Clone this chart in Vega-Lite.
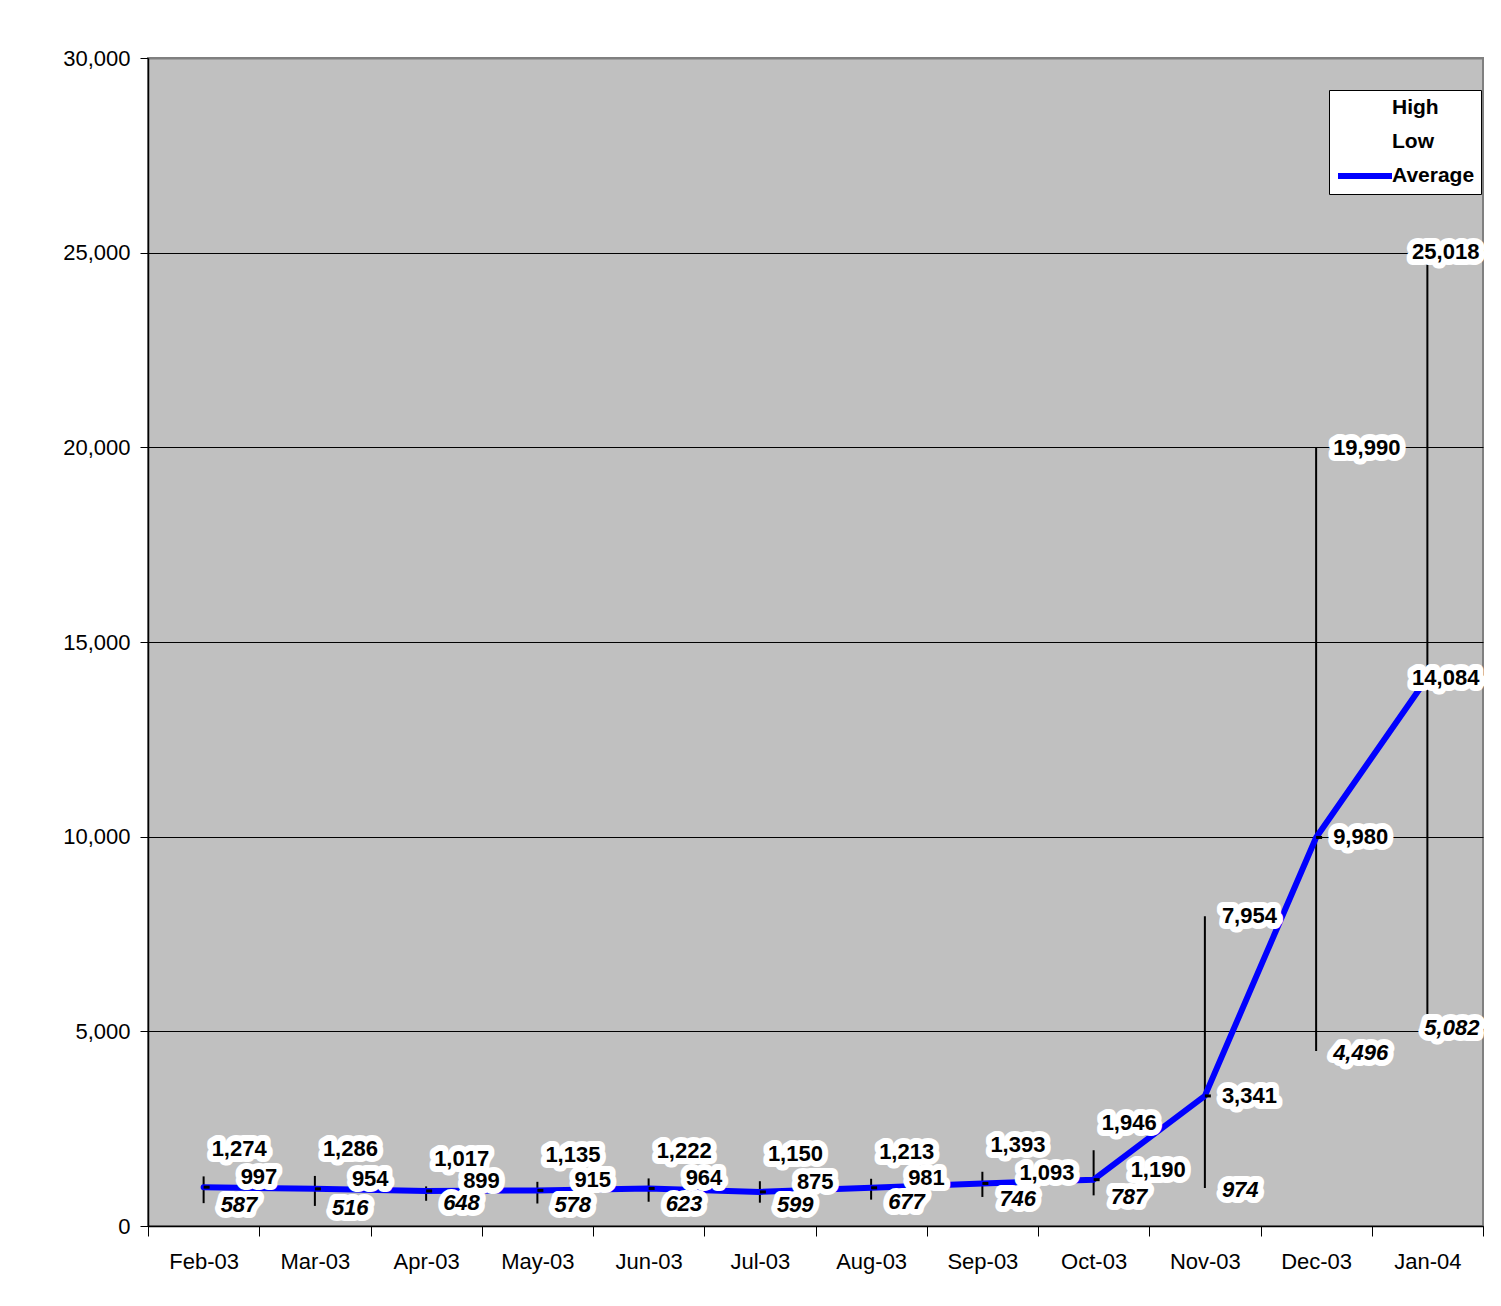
{
  "$schema": "https://vega.github.io/schema/vega-lite/v6.json",
  "width": 1335,
  "height": 1168,
  "autosize": "none",
  "padding": {"left": 148, "top": 58, "right": 18, "bottom": 80},
  "background": "white",
  "config": {
    "view": {"fill": "#C0C0C0", "stroke": "#808080", "strokeWidth": 2},
    "font": "Liberation Sans",
    "axis": {"labelFont": "Liberation Sans", "labelFontSize": 22, "labelColor": "black", "domainColor": "black", "tickColor": "black", "domainWidth": 1.5, "tickWidth": 1}
  },
  "data": {"values": [
    {"month": "Feb-03", "high": 1274, "low": 587, "avg": 997},
    {"month": "Mar-03", "high": 1286, "low": 516, "avg": 954},
    {"month": "Apr-03", "high": 1017, "low": 648, "avg": 899},
    {"month": "May-03", "high": 1135, "low": 578, "avg": 915},
    {"month": "Jun-03", "high": 1222, "low": 623, "avg": 964},
    {"month": "Jul-03", "high": 1150, "low": 599, "avg": 875},
    {"month": "Aug-03", "high": 1213, "low": 677, "avg": 981},
    {"month": "Sep-03", "high": 1393, "low": 746, "avg": 1093},
    {"month": "Oct-03", "high": 1946, "low": 787, "avg": 1190},
    {"month": "Nov-03", "high": 7954, "low": 974, "avg": 3341},
    {"month": "Dec-03", "high": 19990, "low": 4496, "avg": 9980},
    {"month": "Jan-04", "high": 25018, "low": 5082, "avg": 14084}
  ]},
  "encoding": {
    "x": {"field": "month", "type": "ordinal", "sort": null, "title": null,
      "scale": {"type": "band", "paddingInner": 0, "paddingOuter": 0},
      "axis": {"labelAngle": 0, "tickBand": "extent", "tickSize": 10, "labelPadding": 15, "grid": false, "labelOverlap": false}}
  },
  "layer": [
    {
      "mark": {"type": "rule", "color": "black", "strokeWidth": 2},
      "encoding": {
        "y": {"field": "low", "type": "quantitative", "title": null,
          "scale": {"domain": [0, 30000], "nice": false},
          "axis": {"values": [0, 5000, 10000, 15000, 20000, 25000, 30000], "format": ",.0f", "grid": true,
            "gridColor": {"condition": {"test": "datum.value == 30000", "value": "#808080"}, "value": "black"},
            "gridWidth": {"condition": {"test": "datum.value == 30000", "value": 2}, "value": 1},
            "gridOpacity": 1, "tickSize": 8, "labelPadding": 10}},
        "y2": {"field": "high"}
      }
    },
    {
      "mark": {"type": "line", "strokeWidth": 6, "strokeCap": "round", "strokeJoin": "round"},
      "encoding": {
        "y": {"field": "avg", "type": "quantitative"},
        "stroke": {"datum": "Average", "type": "nominal",
          "scale": {"domain": ["High", "Low", "Average"], "range": ["transparent", "transparent", "#0000FF"]},
          "legend": {"title": null, "orient": "none", "legendX": 1181, "legendY": 32, "fillColor": "white", "strokeColor": "black", "padding": 6,
            "symbolType": "M-1,0H5", "symbolSize": 324, "symbolStrokeWidth": 6, "symbolStrokeCap": "round", "labelFont": "Liberation Sans", "labelFontWeight": "bold", "labelFontSize": 21, "labelColor": "black", "labelOffset": 33, "rowPadding": 10}}
      }
    },
    {
      "mark": {"type": "point", "shape": "M0,-0.3H1.2V0.3H0Z", "size": 100, "filled": true, "color": "black", "opacity": 1},
      "encoding": {"y": {"field": "avg", "type": "quantitative"}}
    },

    {"transform": [{"filter": "datum.high < 3000"}],
     "mark": {"type": "text", "fontWeight": "bold", "fontSize": 22, "align": "left", "baseline": "middle", "dx": 8, "dy": -27, "fill": "white", "stroke": "white", "strokeWidth": 12, "strokeJoin": "round"},
     "encoding": {"y": {"field": "high", "type": "quantitative"}, "text": {"field": "high", "format": ","}}},
    {"transform": [{"filter": "datum.high < 3000"}],
     "mark": {"type": "text", "fontWeight": "bold", "fontSize": 22, "align": "left", "baseline": "middle", "dx": 8, "dy": -27, "fill": "black"},
     "encoding": {"y": {"field": "high", "type": "quantitative"}, "text": {"field": "high", "format": ","}}},

    {"transform": [{"filter": "datum.high >= 3000 && datum.month != 'Jan-04'"}],
     "mark": {"type": "text", "fontWeight": "bold", "fontSize": 22, "align": "left", "baseline": "middle", "dx": 17, "fill": "white", "stroke": "white", "strokeWidth": 12, "strokeJoin": "round"},
     "encoding": {"y": {"field": "high", "type": "quantitative"}, "text": {"field": "high", "format": ","}}},
    {"transform": [{"filter": "datum.high >= 3000 && datum.month != 'Jan-04'"}],
     "mark": {"type": "text", "fontWeight": "bold", "fontSize": 22, "align": "left", "baseline": "middle", "dx": 17, "fill": "black"},
     "encoding": {"y": {"field": "high", "type": "quantitative"}, "text": {"field": "high", "format": ","}}},

    {"transform": [{"filter": "datum.high < 3000"}],
     "mark": {"type": "text", "fontWeight": "bold", "fontSize": 22, "align": "left", "baseline": "middle", "dx": 37, "dy": -10, "fill": "white", "stroke": "white", "strokeWidth": 12, "strokeJoin": "round"},
     "encoding": {"y": {"field": "avg", "type": "quantitative"}, "text": {"field": "avg", "format": ","}}},
    {"transform": [{"filter": "datum.high < 3000"}],
     "mark": {"type": "text", "fontWeight": "bold", "fontSize": 22, "align": "left", "baseline": "middle", "dx": 37, "dy": -10, "fill": "black"},
     "encoding": {"y": {"field": "avg", "type": "quantitative"}, "text": {"field": "avg", "format": ","}}},

    {"transform": [{"filter": "datum.high >= 3000 && datum.month != 'Jan-04'"}],
     "mark": {"type": "text", "fontWeight": "bold", "fontSize": 22, "align": "left", "baseline": "middle", "dx": 17, "fill": "white", "stroke": "white", "strokeWidth": 12, "strokeJoin": "round"},
     "encoding": {"y": {"field": "avg", "type": "quantitative"}, "text": {"field": "avg", "format": ","}}},
    {"transform": [{"filter": "datum.high >= 3000 && datum.month != 'Jan-04'"}],
     "mark": {"type": "text", "fontWeight": "bold", "fontSize": 22, "align": "left", "baseline": "middle", "dx": 17, "fill": "black"},
     "encoding": {"y": {"field": "avg", "type": "quantitative"}, "text": {"field": "avg", "format": ","}}},

    {"transform": [{"filter": "datum.month != 'Jan-04'"}],
     "mark": {"type": "text", "fontWeight": "bold", "fontStyle": "italic", "fontSize": 22, "align": "left", "baseline": "middle", "dx": 17, "dy": 2, "fill": "white", "stroke": "white", "strokeWidth": 12, "strokeJoin": "round"},
     "encoding": {"y": {"field": "low", "type": "quantitative"}, "text": {"field": "low", "format": ","}}},
    {"transform": [{"filter": "datum.month != 'Jan-04'"}],
     "mark": {"type": "text", "fontWeight": "bold", "fontStyle": "italic", "fontSize": 22, "align": "left", "baseline": "middle", "dx": 17, "dy": 2, "fill": "black"},
     "encoding": {"y": {"field": "low", "type": "quantitative"}, "text": {"field": "low", "format": ","}}},

    {"transform": [{"filter": "datum.month == 'Jan-04'"}],
     "mark": {"type": "text", "fontWeight": "bold", "fontSize": 22, "align": "right", "baseline": "middle", "dx": 52, "fill": "white", "stroke": "white", "strokeWidth": 12, "strokeJoin": "round"},
     "encoding": {"y": {"field": "high", "type": "quantitative"}, "text": {"field": "high", "format": ","}}},
    {"transform": [{"filter": "datum.month == 'Jan-04'"}],
     "mark": {"type": "text", "fontWeight": "bold", "fontSize": 22, "align": "right", "baseline": "middle", "dx": 52, "fill": "black"},
     "encoding": {"y": {"field": "high", "type": "quantitative"}, "text": {"field": "high", "format": ","}}},
    {"transform": [{"filter": "datum.month == 'Jan-04'"}],
     "mark": {"type": "text", "fontWeight": "bold", "fontSize": 22, "align": "right", "baseline": "middle", "dx": 52, "fill": "white", "stroke": "white", "strokeWidth": 12, "strokeJoin": "round"},
     "encoding": {"y": {"field": "avg", "type": "quantitative"}, "text": {"field": "avg", "format": ","}}},
    {"transform": [{"filter": "datum.month == 'Jan-04'"}],
     "mark": {"type": "text", "fontWeight": "bold", "fontSize": 22, "align": "right", "baseline": "middle", "dx": 52, "fill": "black"},
     "encoding": {"y": {"field": "avg", "type": "quantitative"}, "text": {"field": "avg", "format": ","}}},
    {"transform": [{"filter": "datum.month == 'Jan-04'"}],
     "mark": {"type": "text", "fontWeight": "bold", "fontStyle": "italic", "fontSize": 22, "align": "right", "baseline": "middle", "dx": 52, "fill": "white", "stroke": "white", "strokeWidth": 12, "strokeJoin": "round"},
     "encoding": {"y": {"field": "low", "type": "quantitative"}, "text": {"field": "low", "format": ","}}},
    {"transform": [{"filter": "datum.month == 'Jan-04'"}],
     "mark": {"type": "text", "fontWeight": "bold", "fontStyle": "italic", "fontSize": 22, "align": "right", "baseline": "middle", "dx": 52, "fill": "black"},
     "encoding": {"y": {"field": "low", "type": "quantitative"}, "text": {"field": "low", "format": ","}}}
  ]
}
